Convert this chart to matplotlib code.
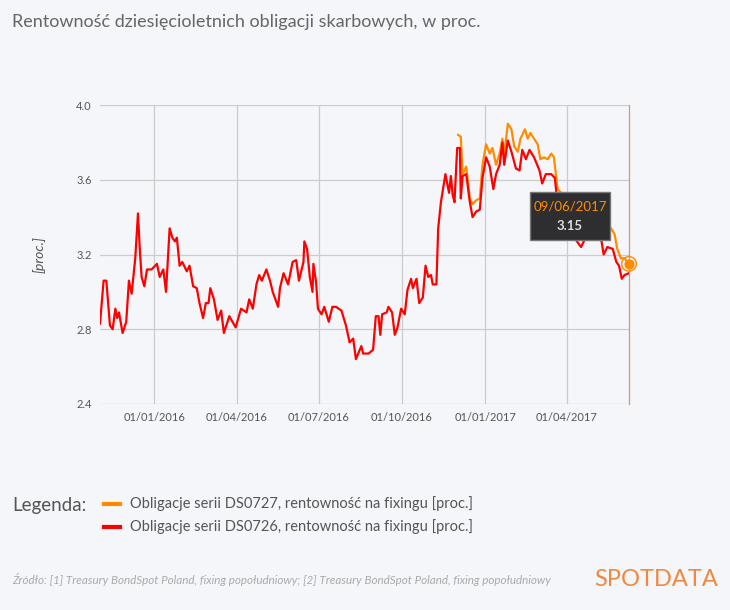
import matplotlib
matplotlib.use("Agg")
import matplotlib.pyplot as plt
import matplotlib.dates as mdates
from matplotlib.patches import Rectangle
import pandas as pd

# dni od 01/01/2016 i rentowność [proc.]
red_days = [-60, -56, -53, -49, -46, -43, -41, -39, -35, -31, -28, -25, -21, -18, -16, -14, -11, -8, -3, 3,
            6, 10, 13, 17, 20, 23, 25, 28, 31, 36, 39, 43, 47, 50, 54, 57, 60, 62, 66, 70,
            74, 77, 83, 90, 96, 102, 105, 109, 113, 116, 119, 124, 128, 131, 137, 139, 143, 148, 153, 157,
            160, 165, 166, 169, 172, 175, 176, 179, 181, 185, 188, 193, 197, 201, 207, 212, 216, 220, 223, 229,
            231, 237, 242, 245, 248, 250, 252, 257, 259, 263, 266, 269, 273, 277, 280, 284, 286, 290, 293, 297,
            300, 303, 306, 308, 312, 314, 317, 322, 326, 328, 330, 332, 335, 338, 339, 341, 345, 349, 352, 356,
            360, 363, 367, 371, 375, 378, 382, 385, 387, 391, 395, 400, 404, 407, 411, 415, 420, 426, 429, 433,
            439, 443, 446, 466, 472, 476, 485, 494, 497, 501, 507, 511, 514, 517, 520, 525]
red_vals = [2.83, 3.06, 3.06, 2.82, 2.80, 2.91, 2.86, 2.89, 2.78, 2.84, 3.06, 2.99, 3.18, 3.42, 3.23, 3.08, 3.03, 3.12, 3.12, 3.15,
            3.08, 3.12, 3.00, 3.34, 3.29, 3.27, 3.29, 3.14, 3.16, 3.11, 3.14, 3.03, 3.02, 2.94, 2.86, 2.94, 2.94, 3.02, 2.96, 2.85,
            2.90, 2.78, 2.87, 2.81, 2.91, 2.89, 2.96, 2.91, 3.04, 3.09, 3.06, 3.12, 3.06, 3.00, 2.92, 3.02, 3.10, 3.04, 3.16, 3.17,
            3.06, 3.16, 3.27, 3.23, 3.08, 3.00, 3.15, 3.05, 2.91, 2.88, 2.92, 2.84, 2.92, 2.92, 2.90, 2.82, 2.73, 2.75, 2.64, 2.71,
            2.67, 2.67, 2.69, 2.87, 2.87, 2.77, 2.88, 2.89, 2.92, 2.89, 2.77, 2.81, 2.91, 2.88, 3.01, 3.07, 3.02, 3.07, 2.94, 2.97,
            3.14, 3.08, 3.09, 3.04, 3.04, 3.34, 3.48, 3.63, 3.53, 3.62, 3.52, 3.48, 3.77, 3.77, 3.50, 3.62, 3.63, 3.48, 3.40, 3.43,
            3.44, 3.61, 3.72, 3.67, 3.55, 3.63, 3.68, 3.80, 3.68, 3.81, 3.75, 3.66, 3.65, 3.76, 3.71, 3.76, 3.72, 3.65, 3.58, 3.63,
            3.63, 3.61, 3.47, 3.28, 3.24, 3.28, 3.29, 3.29, 3.20, 3.24, 3.23, 3.16, 3.14, 3.07, 3.09, 3.10]
orange_days = [336, 339, 341, 345, 349, 352, 356, 360, 363, 367, 371, 374, 378, 382, 385, 387, 391, 395, 398, 402,
               405, 410, 413, 416, 420, 424, 427, 431, 435, 439, 442, 446, 452, 466, 485, 494, 500, 505, 509, 512,
               516, 520, 525]
orange_vals = [3.84, 3.83, 3.63, 3.67, 3.50, 3.47, 3.49, 3.50, 3.68, 3.79, 3.74, 3.77, 3.68, 3.74, 3.82, 3.73, 3.90, 3.87, 3.78, 3.75,
               3.82, 3.87, 3.82, 3.85, 3.82, 3.79, 3.71, 3.72, 3.71, 3.74, 3.72, 3.55, 3.52, 3.36, 3.33, 3.34, 3.34, 3.34, 3.31, 3.23,
               3.18, 3.18, 3.15]
y_ticks = [2.4, 2.8, 3.2, 3.6, 4.0]
x_ticks = ["2016-01-01", "2016-04-01", "2016-07-01", "2016-10-01", "2017-01-01", "2017-04-01"]

base = pd.Timestamp("2016-01-01")
red_x = base + pd.to_timedelta(red_days, unit="D")
or_x = base + pd.to_timedelta(orange_days, unit="D")

BG = "#f5f6fa"
plt.rcParams["font.family"] = "Lato"
fig = plt.figure(figsize=(7.3, 6.1), dpi=100, facecolor=BG)
ax = fig.add_axes([100 / 730, 1 - 404 / 610, 529 / 730, 299 / 610])
ax.set_facecolor(BG)

ax.plot(red_x, red_vals, color="#ff0000", lw=1.6, zorder=3)
ax.plot(or_x, orange_vals, color="#ff8c00", lw=1.6, zorder=2)
ax.scatter([or_x[-1]], [orange_vals[-1]], s=110, facecolor="none", edgecolor="#ff8c00", lw=1, zorder=5, clip_on=False)
ax.scatter([or_x[-1]], [orange_vals[-1]], s=40, color="#ff8c00", zorder=5, clip_on=False)

ax.set_xlim(base - pd.Timedelta(days=60), base + pd.Timedelta(days=525))
ax.set_ylim(2.4, 4.0)
ax.set_yticks(y_ticks)
ax.set_yticklabels([f"{v:.1f}" for v in y_ticks])
ax.set_xticks(pd.to_datetime(x_ticks))
ax.xaxis.set_major_formatter(mdates.DateFormatter("%d/%m/%Y"))
ax.tick_params(colors="#555555", labelsize=8, length=0, pad=6)
ax.grid(True, color="#cccccc", lw=0.9)
for s in ax.spines.values():
    s.set_visible(False)
ax.axvline(ax.get_xlim()[1], color="#d08050", lw=0.9, alpha=0.8, clip_on=False)
ax.set_ylabel("[proc.]", style="italic", color="#555555", fontsize=10, labelpad=22)

# tooltip
ax.add_patch(Rectangle((0.813, 0.548), 0.151, 0.161, transform=ax.transAxes,
                       fc="#2e2e30", ec="#777777", lw=1, zorder=10, clip_on=False))
ax.text(0.8885, 0.66, "09/06/2017", transform=ax.transAxes, ha="center", va="center",
        color="#ff8c00", fontsize=9.5, zorder=11)
ax.text(0.8885, 0.595, "3.15", transform=ax.transAxes, ha="center", va="center",
        color="#dddddd", fontsize=9.5, fontweight="bold", zorder=11)

fig.text(12 / 730, 1 - 22 / 610, "Rentowność dziesięcioletnich obligacji skarbowych, w proc.",
         color="#666666", fontsize=13, va="center")
fig.text(12 / 730, 1 - 505 / 610, "Legenda:", color="#555555", fontsize=13.5, va="center")
items = [("Obligacje serii DS0727, rentowność na fixingu [proc.]", "#ff8c00", 504),
         ("Obligacje serii DS0726, rentowność na fixingu [proc.]", "#ff0000", 527)]
for label, col, yy in items:
    fig.lines.append(plt.Line2D([104 / 730, 120 / 730], [1 - yy / 610] * 2, color=col, lw=3,
                                transform=fig.transFigure))
    fig.text(130 / 730, 1 - yy / 610, label, color="#555555", fontsize=10.5, va="center")
fig.text(12 / 730, 1 - 580 / 610,
         "Źródło: [1] Treasury BondSpot Poland, fixing popołudniowy; [2] Treasury BondSpot Poland, fixing popołudniowy",
         color="#aaaaaa", fontsize=8.4, style="italic", va="center")
fig.text(718 / 730, 1 - 580 / 610, "SPOTDATA", color="#f0883e", fontsize=17, ha="right", va="center")

fig.savefig("out.png", dpi=100, facecolor=BG)
